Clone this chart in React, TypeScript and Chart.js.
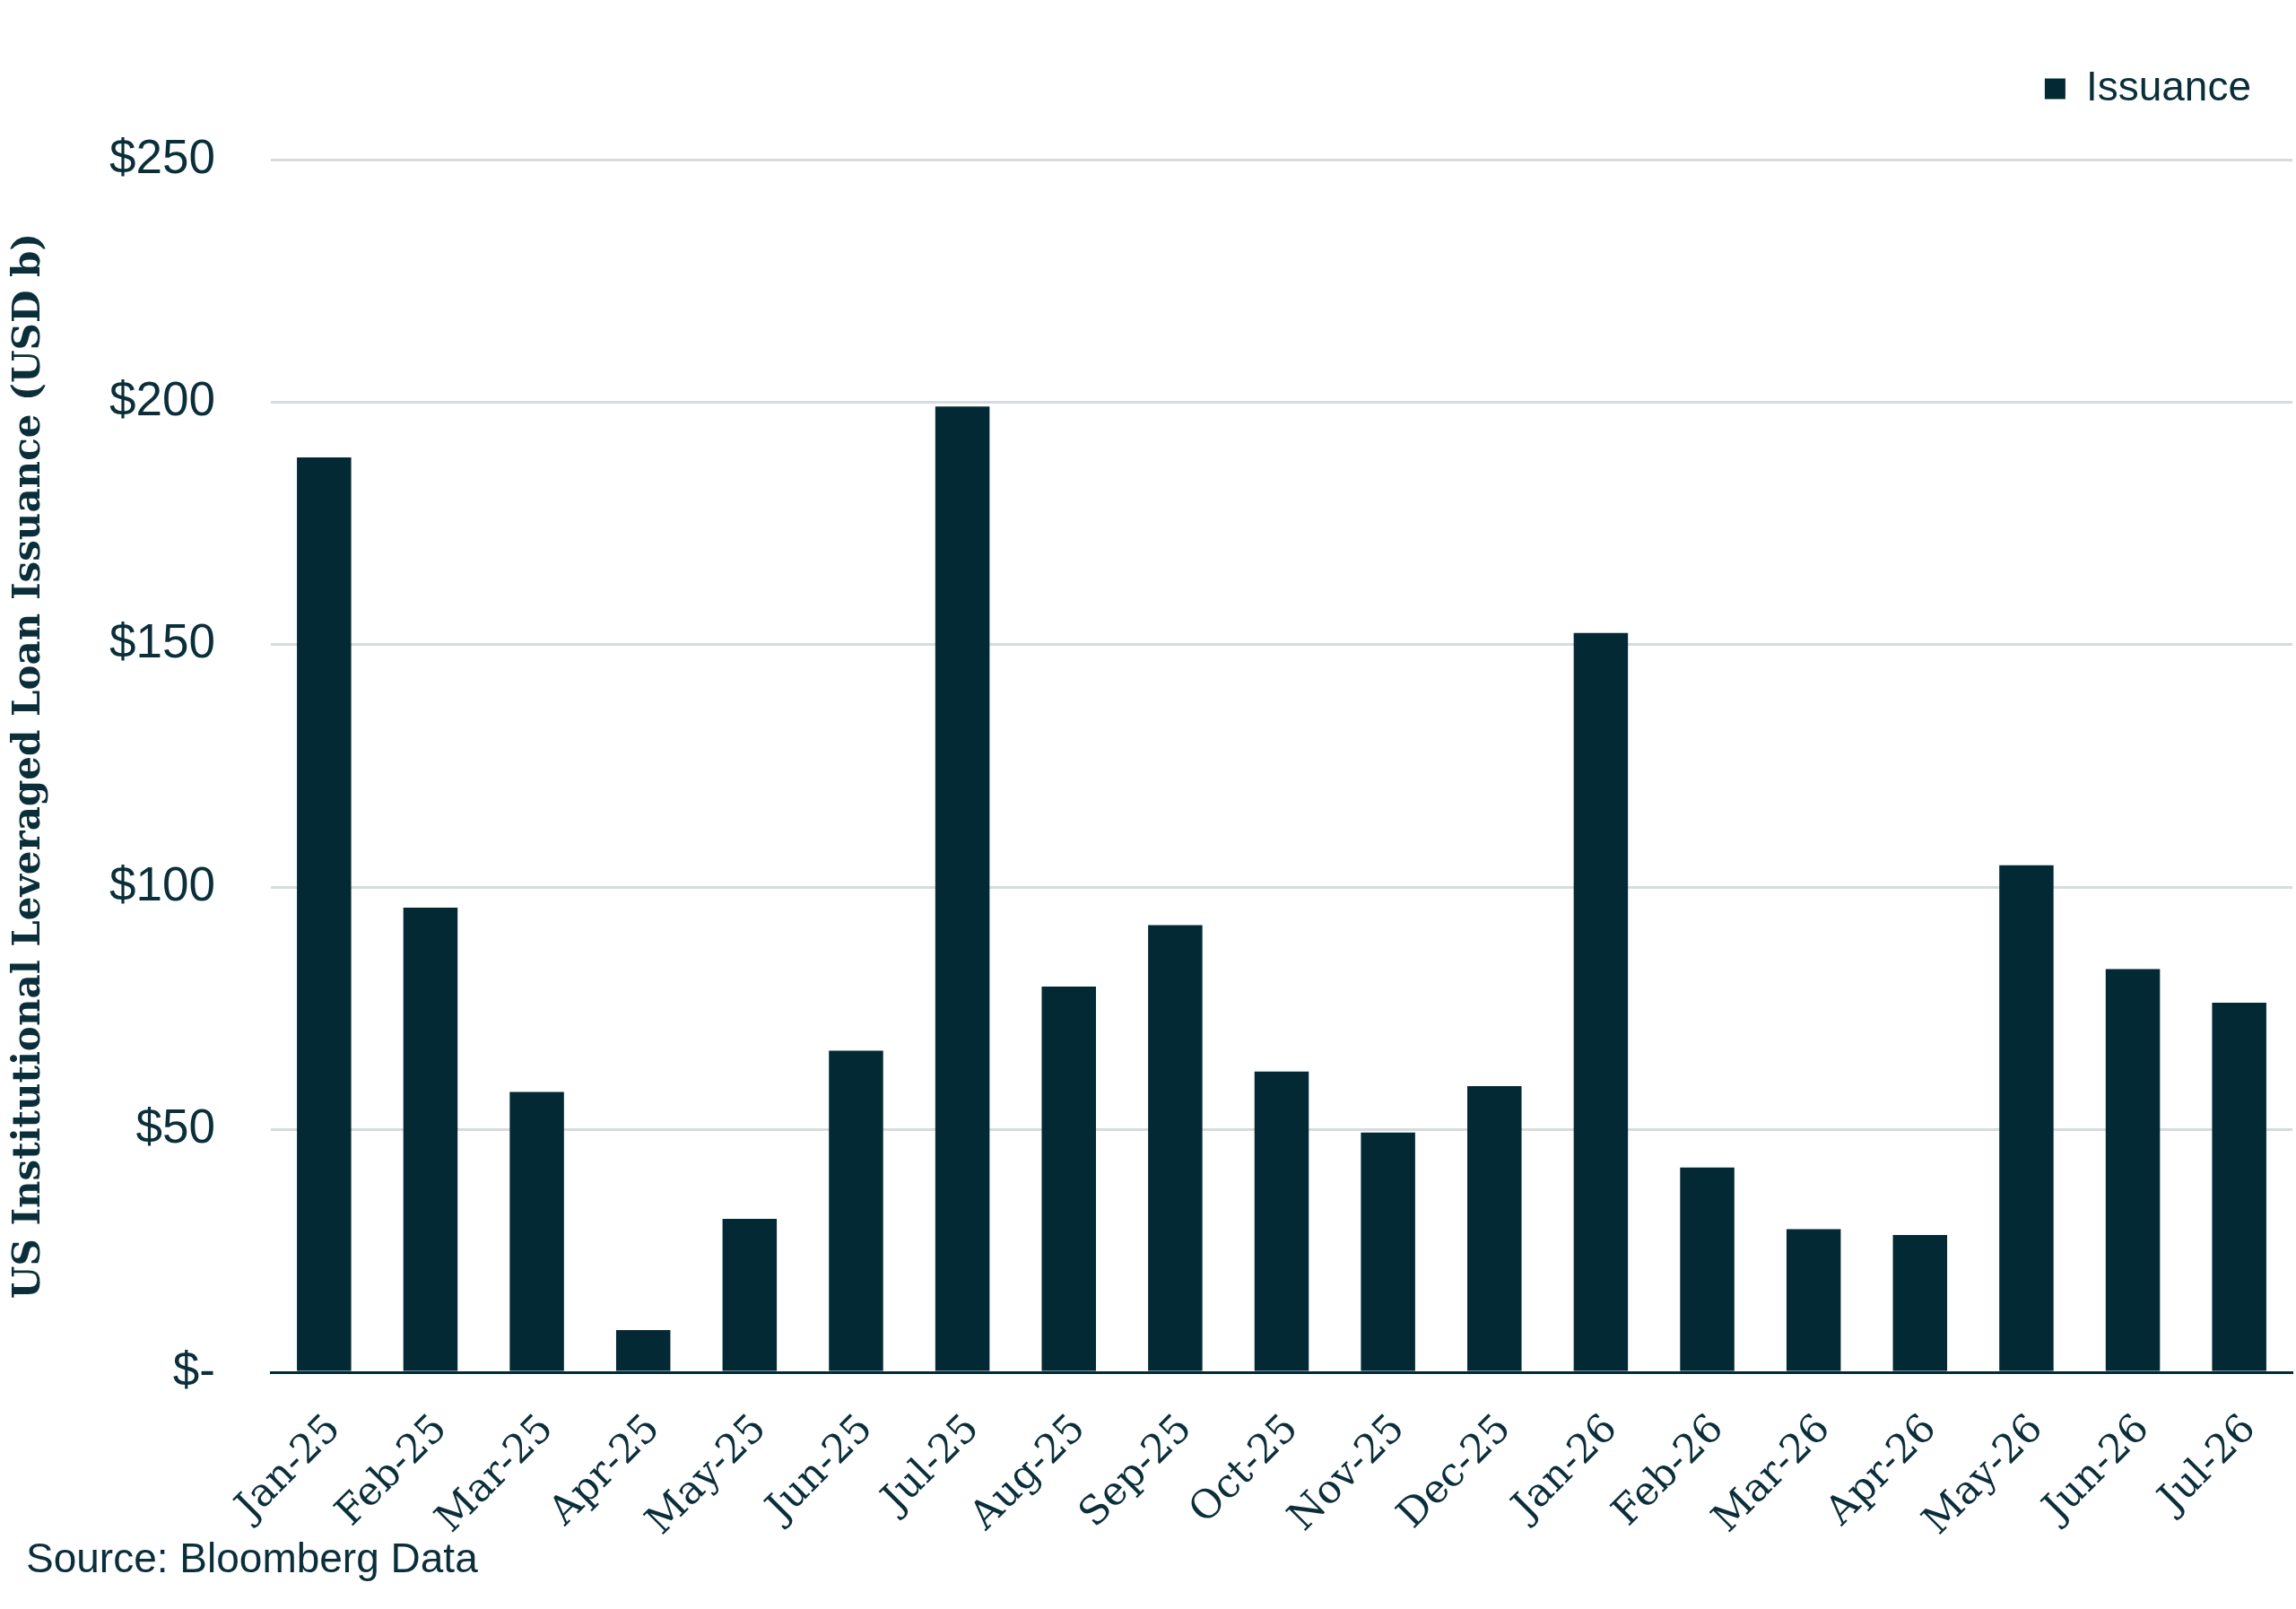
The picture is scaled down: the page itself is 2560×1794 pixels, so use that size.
import { Chart, registerables } from "chart.js";
import { useEffect, useRef } from "react";

Chart.register(...registerables);

const months = [
  "Jan-25", "Feb-25", "Mar-25", "Apr-25", "May-25", "Jun-25", "Jul-25",
  "Aug-25", "Sep-25", "Oct-25", "Nov-25", "Dec-25", "Jan-26", "Feb-26",
  "Mar-26", "Apr-26", "May-26", "Jun-26", "Jul-26",
];

const issuance = [
  188.6, 95.8, 57.8, 8.7, 31.6, 66.3, 199.1, 79.5, 92.2, 62.0,
  49.4, 59.0, 152.4, 42.2, 29.5, 28.3, 104.5, 83.1, 76.2,
];

const yTicks = [0, 50, 100, 150, 200, 250];

const DARK = "#032a34";
const TEXT = "#0b2f3a";
const GRID = "#d6dcde";

// push the plot area down a bit below the legend
const legendGap = {
  id: "legendGap",
  beforeInit(chart: any) {
    const fit = chart.legend.fit;
    chart.legend.fit = function () {
      fit.call(this);
      this.height += 46;
    };
  },
};

export default function App() {
  const canvasRef = useRef<HTMLCanvasElement | null>(null);
  const chartRef = useRef<Chart | null>(null);

  useEffect(() => {
    const canvas = canvasRef.current;
    if (!canvas) return;
    const ctx = canvas.getContext("2d");
    if (!ctx) return;

    chartRef.current?.destroy();
    chartRef.current = new Chart(ctx, {
      type: "bar",
      data: {
        labels: months,
        datasets: [
          {
            label: "Issuance",
            data: issuance,
            backgroundColor: DARK,
            categoryPercentage: 1,
            barPercentage: 0.51,
          },
        ],
      },
      options: {
        responsive: true,
        maintainAspectRatio: false,
        animation: false,
        layout: { padding: { top: 30, right: 4, left: 0, bottom: 0 } },
        plugins: {
          legend: {
            position: "top",
            align: "end",
            labels: {
              color: TEXT,
              font: { family: "Liberation Sans", size: 46 },
              boxWidth: 23,
              boxHeight: 23,
              padding: 46,
            },
          },
          tooltip: { enabled: false },
        },
        scales: {
          x: {
            grid: { display: false, drawTicks: false },
            border: { display: true, color: DARK, width: 3 },
            ticks: {
              color: TEXT,
              font: { family: "DejaVu Serif", size: 44 },
              minRotation: 45,
              maxRotation: 45,
              padding: 38,
              labelOffset: 12,
              autoSkip: false,
            },
            afterFit: (s: any) => {
              s.height = 264;
              s.paddingLeft = 0;
              s.paddingRight = 0;
            },
          },
          y: {
            min: 0,
            max: 250,
            afterBuildTicks: (s: any) => {
              s.ticks = yTicks.map((v) => ({ value: v }));
            },
            grid: {
              color: GRID,
              lineWidth: 3,
              drawTicks: false,
            },
            border: { display: false },
            ticks: {
              color: TEXT,
              font: { family: "Liberation Sans", size: 53 },
              padding: 62,
              callback: (v: any) => (Number(v) === 0 ? "$-" : "$" + v),
            },
            title: {
              display: true,
              text: "US Institutional Leveraged Loan Issuance (USD b)",
              color: TEXT,
              font: { family: "DejaVu Serif", size: 42, weight: "bold" },
              padding: { top: 8, bottom: 0 },
            },
            afterFit: (s: any) => {
              s.width = 302;
            },
          },
        },
      },
      plugins: [legendGap],
    });

    return () => {
      chartRef.current?.destroy();
      chartRef.current = null;
    };
  }, []);

  return (
    <div
      style={{
        position: "fixed",
        left: 0,
        top: 0,
        width: 2560,
        height: 1794,
        background: "#ffffff",
      }}
    >
      <canvas ref={canvasRef} />
      <div
        style={{
          position: "absolute",
          left: 29,
          top: 1710,
          fontFamily: "Liberation Sans",
          fontSize: 46,
          color: TEXT,
          whiteSpace: "nowrap",
        }}
      >
        Source: Bloomberg Data
      </div>
    </div>
  );
}
